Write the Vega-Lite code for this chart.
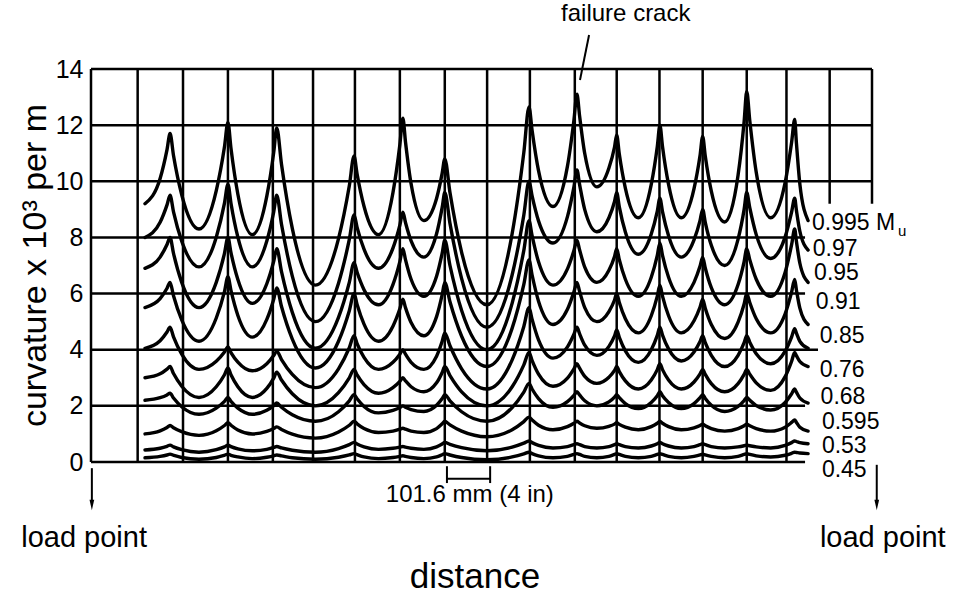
{
"$schema": "https://vega.github.io/schema/vega-lite/v6.json",
"width": 781, "height": 393,
"autosize": {"type": "none"},
"padding": {"left": 91, "top": 69, "right": 81, "bottom": 132},
"background": "white",
"config": {"view": {"stroke": null}, "font": "Liberation Sans", "text": {"font": "Liberation Sans", "color": "#000"}},
"datasets": {
"curves": [
{"x":0.17,"m995":9.2,"m97":8.0,"m95":6.9,"m91":5.5,"m85":4.05,"m76":3.0,"m68":2.2,"m595":1.0,"m53":0.43,"m45":0.15},
{"x":0.52,"m995":10.1,"m97":8.54,"m95":7.3,"m91":5.82,"m85":4.32,"m76":3.14,"m68":2.29,"m595":1.11,"m53":0.49,"m45":0.2},
{"x":0.68,"m995":11.13,"m97":9.16,"m95":7.75,"m91":6.19,"m85":4.63,"m76":3.31,"m68":2.39,"m595":1.23,"m53":0.56,"m45":0.25},
{"x":0.75,"m995":11.7,"m97":9.5,"m95":8.0,"m91":6.4,"m85":4.8,"m76":3.4,"m68":2.45,"m595":1.3,"m53":0.6,"m45":0.28},
{"x":0.83,"m995":10.92,"m97":8.91,"m95":7.43,"m91":5.92,"m85":4.46,"m76":3.15,"m68":2.28,"m595":1.22,"m53":0.54,"m45":0.24},
{"x":1.02,"m995":9.52,"m97":7.87,"m95":6.4,"m91":5.06,"m85":3.84,"m76":2.7,"m68":1.97,"m595":1.08,"m53":0.44,"m45":0.16},
{"x":1.42,"m995":8.3,"m97":6.95,"m95":5.5,"m91":4.3,"m85":3.3,"m76":2.3,"m68":1.7,"m595":0.95,"m53":0.35,"m45":0.1},
{"x":1.82,"m995":9.67,"m97":8.01,"m95":6.4,"m91":5.13,"m85":3.59,"m76":2.68,"m68":1.92,"m595":1.11,"m53":0.44,"m45":0.16},
{"x":2.01,"m995":11.23,"m97":9.22,"m95":7.43,"m91":6.07,"m85":3.92,"m76":3.11,"m68":2.16,"m595":1.3,"m53":0.54,"m45":0.24},
{"x":2.09,"m995":12.1,"m97":9.9,"m95":8.0,"m91":6.6,"m85":4.1,"m76":3.35,"m68":2.3,"m595":1.4,"m53":0.6,"m45":0.28},
{"x":2.16,"m995":11.18,"m97":9.22,"m95":7.46,"m91":6.11,"m85":3.9,"m76":3.11,"m68":2.16,"m595":1.31,"m53":0.55,"m45":0.24},
{"x":2.32,"m995":9.54,"m97":8.01,"m95":6.5,"m91":5.22,"m85":3.56,"m76":2.68,"m68":1.92,"m595":1.14,"m53":0.47,"m45":0.18},
{"x":2.655,"m995":8.1,"m97":6.95,"m95":5.65,"m91":4.45,"m85":3.25,"m76":2.3,"m68":1.7,"m595":1.0,"m53":0.4,"m45":0.12},
{"x":2.99,"m995":9.47,"m97":7.87,"m95":6.35,"m91":5.08,"m85":3.5,"m76":2.62,"m68":1.84,"m595":1.09,"m53":0.45,"m45":0.17},
{"x":3.15,"m995":11.03,"m97":8.91,"m95":7.15,"m91":5.8,"m85":3.79,"m76":2.99,"m68":2.01,"m595":1.19,"m53":0.52,"m45":0.22},
{"x":3.22,"m995":11.9,"m97":9.5,"m95":7.6,"m91":6.2,"m85":3.95,"m76":3.2,"m68":2.1,"m595":1.25,"m53":0.55,"m45":0.25},
{"x":3.33,"m995":10.61,"m97":8.47,"m95":6.78,"m91":5.54,"m85":3.65,"m76":2.92,"m68":1.95,"m595":1.16,"m53":0.5,"m45":0.22},
{"x":3.58,"m995":8.32,"m97":6.62,"m95":5.33,"m91":4.38,"m85":3.12,"m76":2.43,"m68":1.68,"m595":0.99,"m53":0.42,"m45":0.15},
{"x":4.115,"m995":6.3,"m97":5.0,"m95":4.05,"m91":3.35,"m85":2.65,"m76":2.0,"m68":1.45,"m595":0.85,"m53":0.35,"m45":0.1},
{"x":4.65,"m995":7.96,"m97":6.37,"m95":5.15,"m91":4.3,"m85":3.32,"m76":2.47,"m68":1.79,"m595":1.07,"m53":0.48,"m45":0.17},
{"x":4.9,"m995":9.84,"m97":7.93,"m95":6.4,"m91":5.39,"m85":4.07,"m76":3.0,"m68":2.18,"m595":1.31,"m53":0.62,"m45":0.25},
{"x":5.01,"m995":10.9,"m97":8.8,"m95":7.1,"m91":6.0,"m85":4.5,"m76":3.3,"m68":2.4,"m595":1.45,"m53":0.7,"m45":0.3},
{"x":5.08,"m995":10.26,"m97":8.36,"m95":6.76,"m91":5.61,"m85":4.22,"m76":3.1,"m68":2.25,"m595":1.36,"m53":0.64,"m45":0.26},
{"x":5.24,"m995":9.11,"m97":7.58,"m95":6.14,"m91":4.91,"m85":3.73,"m76":2.76,"m68":1.98,"m595":1.19,"m53":0.54,"m45":0.18},
{"x":5.575,"m995":8.1,"m97":6.9,"m95":5.6,"m91":4.3,"m85":3.3,"m76":2.45,"m68":1.75,"m595":1.05,"m53":0.45,"m45":0.12},
{"x":5.91,"m995":9.59,"m97":7.62,"m95":6.32,"m91":4.84,"m85":3.55,"m76":2.65,"m68":1.84,"m595":1.1,"m53":0.49,"m45":0.16},
{"x":6.07,"m995":11.3,"m97":8.44,"m95":7.14,"m91":5.46,"m85":3.84,"m76":2.87,"m68":1.94,"m595":1.17,"m53":0.53,"m45":0.2},
{"x":6.14,"m995":12.25,"m97":8.9,"m95":7.6,"m91":5.8,"m85":4.0,"m76":3.0,"m68":2.0,"m595":1.2,"m53":0.55,"m45":0.22},
{"x":6.2,"m995":11.41,"m97":8.53,"m95":7.21,"m91":5.5,"m85":3.84,"m76":2.89,"m68":1.95,"m595":1.17,"m53":0.53,"m45":0.2},
{"x":6.33,"m995":9.91,"m97":7.88,"m95":6.51,"m91":4.97,"m85":3.55,"m76":2.68,"m68":1.87,"m595":1.1,"m53":0.49,"m45":0.16},
{"x":6.625,"m995":8.6,"m97":7.3,"m95":5.9,"m91":4.5,"m85":3.3,"m76":2.5,"m68":1.8,"m595":1.05,"m53":0.45,"m45":0.12},
{"x":6.92,"m995":9.39,"m97":8.13,"m95":6.62,"m91":5.18,"m85":3.77,"m76":2.82,"m68":2.02,"m595":1.19,"m53":0.54,"m45":0.18},
{"x":7.05,"m995":10.29,"m97":9.07,"m95":7.44,"m91":5.96,"m85":4.3,"m76":3.19,"m68":2.26,"m595":1.36,"m53":0.64,"m45":0.26},
{"x":7.11,"m995":10.8,"m97":9.6,"m95":7.9,"m91":6.4,"m85":4.6,"m76":3.4,"m68":2.4,"m595":1.45,"m53":0.7,"m45":0.3},
{"x":7.23,"m995":9.6,"m97":8.5,"m95":7.0,"m91":5.71,"m85":4.14,"m76":3.08,"m68":2.18,"m595":1.32,"m53":0.63,"m45":0.25},
{"x":7.5,"m995":7.47,"m97":6.53,"m95":5.4,"m91":4.48,"m85":3.32,"m76":2.5,"m68":1.79,"m595":1.1,"m53":0.51,"m45":0.16},
{"x":8.085,"m995":5.6,"m97":4.8,"m95":4.0,"m91":3.4,"m85":2.6,"m76":2.0,"m68":1.45,"m595":0.9,"m53":0.4,"m45":0.08},
{"x":8.67,"m995":8.14,"m97":6.67,"m95":5.66,"m91":4.77,"m85":3.64,"m76":2.68,"m68":1.94,"m595":1.15,"m53":0.53,"m45":0.18},
{"x":8.94,"m995":11.03,"m97":8.8,"m95":7.54,"m91":6.33,"m85":4.83,"m76":3.46,"m68":2.49,"m595":1.44,"m53":0.67,"m45":0.29},
{"x":9.06,"m995":12.65,"m97":10.0,"m95":8.6,"m91":7.2,"m85":5.5,"m76":3.9,"m68":2.8,"m595":1.6,"m53":0.75,"m45":0.35},
{"x":9.13,"m995":11.83,"m97":9.49,"m95":8.07,"m91":6.67,"m85":5.09,"m76":3.62,"m68":2.6,"m595":1.5,"m53":0.69,"m45":0.3},
{"x":9.28,"m995":10.38,"m97":8.59,"m95":7.13,"m91":5.73,"m85":4.35,"m76":3.13,"m68":2.26,"m595":1.31,"m53":0.59,"m45":0.22},
{"x":9.615,"m995":9.1,"m97":7.8,"m95":6.3,"m91":4.9,"m85":3.7,"m76":2.7,"m68":1.95,"m595":1.15,"m53":0.5,"m45":0.15},
{"x":9.95,"m995":10.54,"m97":8.74,"m95":6.88,"m91":5.44,"m85":4.1,"m76":2.99,"m68":2.15,"m595":1.26,"m53":0.55,"m45":0.2},
{"x":10.1,"m995":12.18,"m97":9.8,"m95":7.53,"m91":6.06,"m85":4.55,"m76":3.32,"m68":2.37,"m595":1.38,"m53":0.62,"m45":0.27},
{"x":10.17,"m995":13.1,"m97":10.4,"m95":7.9,"m91":6.4,"m85":4.8,"m76":3.5,"m68":2.5,"m595":1.45,"m53":0.65,"m45":0.3},
{"x":10.23,"m995":12.34,"m97":9.89,"m95":7.56,"m91":6.08,"m85":4.57,"m76":3.34,"m68":2.39,"m595":1.39,"m53":0.62,"m45":0.27},
{"x":10.35,"m995":10.99,"m97":8.99,"m95":6.94,"m91":5.5,"m85":4.16,"m76":3.05,"m68":2.18,"m595":1.29,"m53":0.55,"m45":0.2},
{"x":10.63,"m995":9.8,"m97":8.2,"m95":6.4,"m91":5.0,"m85":3.8,"m76":2.8,"m68":2.0,"m595":1.2,"m53":0.5,"m45":0.15},
{"x":10.91,"m995":10.47,"m97":8.7,"m95":6.83,"m91":5.36,"m85":4.12,"m76":3.02,"m68":2.14,"m595":1.27,"m53":0.55,"m45":0.2},
{"x":11.04,"m995":11.22,"m97":9.28,"m95":7.32,"m91":5.77,"m85":4.49,"m76":3.26,"m68":2.31,"m595":1.35,"m53":0.62,"m45":0.27},
{"x":11.09,"m995":11.65,"m97":9.6,"m95":7.6,"m91":6.0,"m85":4.7,"m76":3.4,"m68":2.4,"m595":1.4,"m53":0.65,"m45":0.3},
{"x":11.15,"m995":10.97,"m97":9.09,"m95":7.21,"m91":5.68,"m85":4.44,"m76":3.22,"m68":2.29,"m595":1.34,"m53":0.62,"m45":0.27},
{"x":11.29,"m995":9.76,"m97":8.19,"m95":6.51,"m91":5.1,"m85":3.96,"m76":2.89,"m68":2.08,"m595":1.24,"m53":0.55,"m45":0.2},
{"x":11.59,"m995":8.7,"m97":7.4,"m95":5.9,"m91":4.6,"m85":3.55,"m76":2.6,"m68":1.9,"m595":1.15,"m53":0.5,"m45":0.15},
{"x":11.89,"m995":9.89,"m97":8.12,"m95":6.58,"m91":5.21,"m85":4.0,"m76":2.92,"m68":2.12,"m595":1.26,"m53":0.57,"m45":0.2},
{"x":12.03,"m995":11.24,"m97":8.94,"m95":7.36,"m91":5.91,"m85":4.51,"m76":3.29,"m68":2.36,"m595":1.38,"m53":0.65,"m45":0.27},
{"x":12.09,"m995":12.0,"m97":9.4,"m95":7.8,"m91":6.3,"m85":4.8,"m76":3.5,"m68":2.5,"m595":1.45,"m53":0.7,"m45":0.3},
{"x":12.15,"m995":11.24,"m97":8.92,"m95":7.36,"m91":5.91,"m85":4.52,"m76":3.29,"m68":2.36,"m595":1.38,"m53":0.65,"m45":0.27},
{"x":12.29,"m995":9.89,"m97":8.06,"m95":6.58,"m91":5.21,"m85":4.03,"m76":2.92,"m68":2.12,"m595":1.26,"m53":0.57,"m45":0.2},
{"x":12.585,"m995":8.7,"m97":7.3,"m95":5.9,"m91":4.6,"m85":3.6,"m76":2.6,"m68":1.9,"m595":1.15,"m53":0.5,"m45":0.15},
{"x":12.88,"m995":9.74,"m97":7.91,"m95":6.4,"m91":5.03,"m85":3.92,"m76":2.85,"m68":2.08,"m595":1.22,"m53":0.55,"m45":0.2},
{"x":13.02,"m995":10.93,"m97":8.61,"m95":6.98,"m91":5.52,"m85":4.29,"m76":3.14,"m68":2.29,"m595":1.3,"m53":0.62,"m45":0.25},
{"x":13.08,"m995":11.6,"m97":9.0,"m95":7.3,"m91":5.8,"m85":4.5,"m76":3.3,"m68":2.4,"m595":1.35,"m53":0.65,"m45":0.28},
{"x":13.14,"m995":10.9,"m97":8.54,"m95":6.91,"m91":5.48,"m85":4.25,"m76":3.12,"m68":2.26,"m595":1.29,"m53":0.62,"m45":0.25},
{"x":13.28,"m995":9.65,"m97":7.72,"m95":6.21,"m91":4.9,"m85":3.8,"m76":2.79,"m68":2.02,"m595":1.19,"m53":0.55,"m45":0.2},
{"x":13.59,"m995":8.55,"m97":7.0,"m95":5.6,"m91":4.4,"m85":3.4,"m76":2.5,"m68":1.8,"m595":1.1,"m53":0.5,"m45":0.15},
{"x":13.9,"m995":10.22,"m97":7.94,"m95":6.32,"m91":4.98,"m85":3.8,"m76":2.79,"m68":1.98,"m595":1.19,"m53":0.54,"m45":0.2},
{"x":14.04,"m995":12.13,"m97":9.0,"m95":7.14,"m91":5.63,"m85":4.25,"m76":3.12,"m68":2.19,"m595":1.29,"m53":0.58,"m45":0.27},
{"x":14.1,"m995":13.2,"m97":9.6,"m95":7.6,"m91":6.0,"m85":4.5,"m76":3.3,"m68":2.3,"m595":1.35,"m53":0.6,"m45":0.3},
{"x":14.17,"m995":12.17,"m97":9.06,"m95":7.21,"m91":5.68,"m85":4.27,"m76":3.13,"m68":2.2,"m595":1.29,"m53":0.58,"m45":0.27},
{"x":14.32,"m995":10.32,"m97":8.1,"m95":6.51,"m91":5.1,"m85":3.86,"m76":2.82,"m68":2.01,"m595":1.19,"m53":0.54,"m45":0.22},
{"x":14.655,"m995":8.7,"m97":7.25,"m95":5.9,"m91":4.6,"m85":3.5,"m76":2.55,"m68":1.85,"m595":1.1,"m53":0.5,"m45":0.18},
{"x":14.99,"m995":9.96,"m97":8.02,"m95":6.76,"m91":5.28,"m85":3.95,"m76":3.04,"m68":2.12,"m595":1.24,"m53":0.59,"m45":0.24},
{"x":15.14,"m995":11.4,"m97":8.91,"m95":7.75,"m91":6.06,"m85":4.46,"m76":3.59,"m68":2.43,"m595":1.41,"m53":0.69,"m45":0.31},
{"x":15.21,"m995":12.2,"m97":9.4,"m95":8.3,"m91":6.5,"m85":4.75,"m76":3.9,"m68":2.6,"m595":1.5,"m53":0.75,"m45":0.35},
{"x":15.25,"m995":11.37,"m97":8.97,"m95":7.86,"m91":6.13,"m85":4.59,"m76":3.79,"m68":2.49,"m595":1.41,"m53":0.73,"m45":0.34},
{"x":15.33,"m995":9.9,"m97":8.22,"m95":7.08,"m91":5.48,"m85":4.3,"m76":3.58,"m68":2.28,"m595":1.24,"m53":0.69,"m45":0.32},
{"x":15.52,"m995":8.6,"m97":7.55,"m95":6.4,"m91":4.9,"m85":4.05,"m76":3.4,"m68":2.1,"m595":1.1,"m53":0.65,"m45":0.3}
],
"hgrid": [
{"y":0,"x1":-1.08,"x2":15.45},{"y":2,"x1":-1.08,"x2":15.45},{"y":4,"x1":-1.08,"x2":15.75},{"y":6,"x1":-1.08,"x2":15.45},
{"y":8,"x1":-1.08,"x2":15.45},{"y":10,"x1":-1.08,"x2":17},{"y":12,"x1":-1.08,"x2":17},{"y":14,"x1":-1.08,"x2":17}
],
"vgrid": [
{"x":-1.08,"y1":0,"y2":14},{"x":0,"y1":0,"y2":14},{"x":1.05,"y1":0,"y2":14},{"x":2.09,"y1":0,"y2":14},{"x":3.13,"y1":0,"y2":14},
{"x":4.06,"y1":0,"y2":14},{"x":5.03,"y1":0,"y2":14},{"x":6.07,"y1":0,"y2":14},{"x":7.11,"y1":0,"y2":14},{"x":8.09,"y1":0,"y2":14},
{"x":9.08,"y1":0,"y2":14},{"x":10.12,"y1":0,"y2":14},{"x":11.09,"y1":0,"y2":14},{"x":12.08,"y1":0,"y2":14},{"x":13.08,"y1":0,"y2":14},
{"x":14.1,"y1":0,"y2":14},{"x":15.02,"y1":0,"y2":14},{"x":16.02,"y1":9.2,"y2":14},{"x":17,"y1":9.2,"y2":14}
],
"levels": [
{"t":"0.995 M","x":15.61,"y":8.51},{"t":"0.97","x":15.63,"y":7.59},{"t":"0.95","x":15.66,"y":6.73},
{"t":"0.91","x":15.7,"y":5.7},{"t":"0.85","x":15.79,"y":4.49},{"t":"0.76","x":15.79,"y":3.28},
{"t":"0.68","x":15.81,"y":2.32},{"t":"0.595","x":15.84,"y":1.43},{"t":"0.53","x":15.84,"y":0.57},
{"t":"0.45","x":15.84,"y":-0.28}
]
},
"layer": [
{
"data": {"name": "curves"},
"transform": [{"fold": ["m995","m97","m95","m91","m85","m76","m68","m595","m53","m45"], "as": ["M","k"]}],
"mark": {"type": "line", "interpolate": "monotone", "strokeWidth": 3.4, "color": "#000", "strokeCap": "round", "strokeJoin": "round"},
"encoding": {
"x": {"field": "x", "type": "quantitative", "scale": {"domain": [-1.08, 17], "nice": false, "zero": false}, "axis": null},
"y": {"field": "k", "type": "quantitative", "scale": {"domain": [0, 14], "nice": false, "zero": false},
"axis": {"values": [0,2,4,6,8,10,12,14], "domain": false, "ticks": false, "grid": false,
"labelFont": "Liberation Sans", "labelFontSize": 25, "labelColor": "#000", "labelPadding": 8,
"title": "curvature x 10³ per m", "titleFont": "Liberation Sans", "titleFontSize": 34, "titleFontWeight": "normal",
"titleColor": "#000", "titleAngle": 270, "titleX": -46, "titleY": 196, "titleAlign": "center", "titleBaseline": "alphabetic"}},
"detail": {"field": "M"}
}
},
{
"data": {"name": "hgrid"},
"mark": {"type": "rule", "strokeWidth": 2.5, "color": "#000"},
"encoding": {
"x": {"field": "x1", "type": "quantitative", "scale": {"domain": [-1.08, 17], "nice": false, "zero": false}, "axis": null},
"x2": {"field": "x2"},
"y": {"field": "y", "type": "quantitative", "scale": {"domain": [0, 14], "nice": false, "zero": false},
"axis": {"values": [0,2,4,6,8,10,12,14], "domain": false, "ticks": false, "grid": false,
"labelFont": "Liberation Sans", "labelFontSize": 25, "labelColor": "#000", "labelPadding": 8,
"title": "curvature x 10³ per m", "titleFont": "Liberation Sans", "titleFontSize": 34, "titleFontWeight": "normal",
"titleColor": "#000", "titleAngle": 270, "titleX": -46, "titleY": 196, "titleAlign": "center", "titleBaseline": "alphabetic"}}
}
},
{
"data": {"name": "vgrid"},
"mark": {"type": "rule", "strokeWidth": 2.5, "color": "#000"},
"encoding": {
"x": {"field": "x", "type": "quantitative", "scale": {"domain": [-1.08, 17], "nice": false, "zero": false}, "axis": null},
"y": {"field": "y1", "type": "quantitative", "scale": {"domain": [0, 14], "nice": false, "zero": false},
"axis": {"values": [0,2,4,6,8,10,12,14], "domain": false, "ticks": false, "grid": false,
"labelFont": "Liberation Sans", "labelFontSize": 25, "labelColor": "#000", "labelPadding": 8,
"title": "curvature x 10³ per m", "titleFont": "Liberation Sans", "titleFontSize": 34, "titleFontWeight": "normal",
"titleColor": "#000", "titleAngle": 270, "titleX": -46, "titleY": 196, "titleAlign": "center", "titleBaseline": "alphabetic"}},
"y2": {"field": "y2"}
}
},
{
"data": {"values": [{"x":-1.06,"y1":-0.22,"y2":-1.45},{"x":17.11,"y1":-0.1,"y2":-1.45},{"x":7.16,"y1":-0.15,"y2":-0.75},{"x":8.16,"y1":-0.15,"y2":-0.75}]},
"mark": {"type": "rule", "strokeWidth": 2, "color": "#000"},
"encoding": {
"x": {"field": "x", "type": "quantitative", "scale": {"domain": [-1.08, 17], "nice": false, "zero": false}, "axis": null},
"y": {"field": "y1", "type": "quantitative", "scale": {"domain": [0, 14], "nice": false, "zero": false},
"axis": {"values": [0,2,4,6,8,10,12,14], "domain": false, "ticks": false, "grid": false,
"labelFont": "Liberation Sans", "labelFontSize": 25, "labelColor": "#000", "labelPadding": 8,
"title": "curvature x 10³ per m", "titleFont": "Liberation Sans", "titleFontSize": 34, "titleFontWeight": "normal",
"titleColor": "#000", "titleAngle": 270, "titleX": -46, "titleY": 196, "titleAlign": "center", "titleBaseline": "alphabetic"}},
"y2": {"field": "y2"}
}
},
{
"data": {"values": [{"x1":7.16,"x2":8.16,"y":-0.6}]},
"mark": {"type": "rule", "strokeWidth": 2, "color": "#000"},
"encoding": {
"x": {"field": "x1", "type": "quantitative", "scale": {"domain": [-1.08, 17], "nice": false, "zero": false}, "axis": null},
"x2": {"field": "x2"},
"y": {"field": "y", "type": "quantitative", "scale": {"domain": [0, 14], "nice": false, "zero": false},
"axis": {"values": [0,2,4,6,8,10,12,14], "domain": false, "ticks": false, "grid": false,
"labelFont": "Liberation Sans", "labelFontSize": 25, "labelColor": "#000", "labelPadding": 8,
"title": "curvature x 10³ per m", "titleFont": "Liberation Sans", "titleFontSize": 34, "titleFontWeight": "normal",
"titleColor": "#000", "titleAngle": 270, "titleX": -46, "titleY": 196, "titleAlign": "center", "titleBaseline": "alphabetic"}}
}
},
{
"data": {"values": [{"x1":10.45,"y1":15.21,"x2":10.24,"y2":13.61}]},
"mark": {"type": "rule", "strokeWidth": 2, "color": "#000"},
"encoding": {
"x": {"field": "x1", "type": "quantitative", "scale": {"domain": [-1.08, 17], "nice": false, "zero": false}, "axis": null},
"x2": {"field": "x2"},
"y": {"field": "y1", "type": "quantitative", "scale": {"domain": [0, 14], "nice": false, "zero": false},
"axis": {"values": [0,2,4,6,8,10,12,14], "domain": false, "ticks": false, "grid": false,
"labelFont": "Liberation Sans", "labelFontSize": 25, "labelColor": "#000", "labelPadding": 8,
"title": "curvature x 10³ per m", "titleFont": "Liberation Sans", "titleFontSize": 34, "titleFontWeight": "normal",
"titleColor": "#000", "titleAngle": 270, "titleX": -46, "titleY": 196, "titleAlign": "center", "titleBaseline": "alphabetic"}},
"y2": {"field": "y2"}
}
},
{
"data": {"values": [{"x":-1.06,"y":-1.53},{"x":17.11,"y":-1.53}]},
"mark": {"type": "point", "shape": "M-0.45,-1L0.45,-1L0,1Z", "size": 110, "filled": true, "color": "#000", "opacity": 1},
"encoding": {
"x": {"field": "x", "type": "quantitative", "scale": {"domain": [-1.08, 17], "nice": false, "zero": false}, "axis": null},
"y": {"field": "y", "type": "quantitative", "scale": {"domain": [0, 14], "nice": false, "zero": false},
"axis": {"values": [0,2,4,6,8,10,12,14], "domain": false, "ticks": false, "grid": false,
"labelFont": "Liberation Sans", "labelFontSize": 25, "labelColor": "#000", "labelPadding": 8,
"title": "curvature x 10³ per m", "titleFont": "Liberation Sans", "titleFontSize": 34, "titleFontWeight": "normal",
"titleColor": "#000", "titleAngle": 270, "titleX": -46, "titleY": 196, "titleAlign": "center", "titleBaseline": "alphabetic"}}
}
},
{
"data": {"name": "levels"},
"mark": {"type": "text", "align": "left", "baseline": "middle", "fontSize": 23, "font": "Liberation Sans", "color": "#000"},
"encoding": {
"x": {"field": "x", "type": "quantitative", "scale": {"domain": [-1.08, 17], "nice": false, "zero": false}, "axis": null},
"y": {"field": "y", "type": "quantitative", "scale": {"domain": [0, 14], "nice": false, "zero": false},
"axis": {"values": [0,2,4,6,8,10,12,14], "domain": false, "ticks": false, "grid": false,
"labelFont": "Liberation Sans", "labelFontSize": 25, "labelColor": "#000", "labelPadding": 8,
"title": "curvature x 10³ per m", "titleFont": "Liberation Sans", "titleFontSize": 34, "titleFontWeight": "normal",
"titleColor": "#000", "titleAngle": 270, "titleX": -46, "titleY": 196, "titleAlign": "center", "titleBaseline": "alphabetic"}},
"text": {"field": "t"}
}
},
{
"data": {"values": [{"t":"u","x":17.6,"y":8.23}]},
"mark": {"type": "text", "align": "left", "baseline": "middle", "fontSize": 15, "font": "Liberation Sans", "color": "#000"},
"encoding": {
"x": {"field": "x", "type": "quantitative", "scale": {"domain": [-1.08, 17], "nice": false, "zero": false}, "axis": null},
"y": {"field": "y", "type": "quantitative", "scale": {"domain": [0, 14], "nice": false, "zero": false},
"axis": {"values": [0,2,4,6,8,10,12,14], "domain": false, "ticks": false, "grid": false,
"labelFont": "Liberation Sans", "labelFontSize": 25, "labelColor": "#000", "labelPadding": 8,
"title": "curvature x 10³ per m", "titleFont": "Liberation Sans", "titleFontSize": 34, "titleFontWeight": "normal",
"titleColor": "#000", "titleAngle": 270, "titleX": -46, "titleY": 196, "titleAlign": "center", "titleBaseline": "alphabetic"}},
"text": {"field": "t"}
}
},
{
"data": {"values": [{"t":"failure crack","x":11.3,"y":15.96}]},
"mark": {"type": "text", "align": "center", "baseline": "middle", "fontSize": 24, "font": "Liberation Sans", "color": "#000"},
"encoding": {
"x": {"field": "x", "type": "quantitative", "scale": {"domain": [-1.08, 17], "nice": false, "zero": false}, "axis": null},
"y": {"field": "y", "type": "quantitative", "scale": {"domain": [0, 14], "nice": false, "zero": false},
"axis": {"values": [0,2,4,6,8,10,12,14], "domain": false, "ticks": false, "grid": false,
"labelFont": "Liberation Sans", "labelFontSize": 25, "labelColor": "#000", "labelPadding": 8,
"title": "curvature x 10³ per m", "titleFont": "Liberation Sans", "titleFontSize": 34, "titleFontWeight": "normal",
"titleColor": "#000", "titleAngle": 270, "titleX": -46, "titleY": 196, "titleAlign": "center", "titleBaseline": "alphabetic"}},
"text": {"field": "t"}
}
},
{
"data": {"values": [{"t":"101.6 mm (4 in)","x":7.69,"y":-1.18}]},
"mark": {"type": "text", "align": "center", "baseline": "middle", "fontSize": 24, "font": "Liberation Sans", "color": "#000"},
"encoding": {
"x": {"field": "x", "type": "quantitative", "scale": {"domain": [-1.08, 17], "nice": false, "zero": false}, "axis": null},
"y": {"field": "y", "type": "quantitative", "scale": {"domain": [0, 14], "nice": false, "zero": false},
"axis": {"values": [0,2,4,6,8,10,12,14], "domain": false, "ticks": false, "grid": false,
"labelFont": "Liberation Sans", "labelFontSize": 25, "labelColor": "#000", "labelPadding": 8,
"title": "curvature x 10³ per m", "titleFont": "Liberation Sans", "titleFontSize": 34, "titleFontWeight": "normal",
"titleColor": "#000", "titleAngle": 270, "titleX": -46, "titleY": 196, "titleAlign": "center", "titleBaseline": "alphabetic"}},
"text": {"field": "t"}
}
},
{
"data": {"values": [{"t":"load point","x":-1.24,"y":-2.71},{"t":"load point","x":17.25,"y":-2.71}]},
"mark": {"type": "text", "align": "center", "baseline": "middle", "fontSize": 29, "font": "Liberation Sans", "color": "#000"},
"encoding": {
"x": {"field": "x", "type": "quantitative", "scale": {"domain": [-1.08, 17], "nice": false, "zero": false}, "axis": null},
"y": {"field": "y", "type": "quantitative", "scale": {"domain": [0, 14], "nice": false, "zero": false},
"axis": {"values": [0,2,4,6,8,10,12,14], "domain": false, "ticks": false, "grid": false,
"labelFont": "Liberation Sans", "labelFontSize": 25, "labelColor": "#000", "labelPadding": 8,
"title": "curvature x 10³ per m", "titleFont": "Liberation Sans", "titleFontSize": 34, "titleFontWeight": "normal",
"titleColor": "#000", "titleAngle": 270, "titleX": -46, "titleY": 196, "titleAlign": "center", "titleBaseline": "alphabetic"}},
"text": {"field": "t"}
}
},
{
"data": {"values": [{"t":"distance","x":7.81,"y":-4.1}]},
"mark": {"type": "text", "align": "center", "baseline": "middle", "fontSize": 35, "font": "Liberation Sans", "color": "#000"},
"encoding": {
"x": {"field": "x", "type": "quantitative", "scale": {"domain": [-1.08, 17], "nice": false, "zero": false}, "axis": null},
"y": {"field": "y", "type": "quantitative", "scale": {"domain": [0, 14], "nice": false, "zero": false},
"axis": {"values": [0,2,4,6,8,10,12,14], "domain": false, "ticks": false, "grid": false,
"labelFont": "Liberation Sans", "labelFontSize": 25, "labelColor": "#000", "labelPadding": 8,
"title": "curvature x 10³ per m", "titleFont": "Liberation Sans", "titleFontSize": 34, "titleFontWeight": "normal",
"titleColor": "#000", "titleAngle": 270, "titleX": -46, "titleY": 196, "titleAlign": "center", "titleBaseline": "alphabetic"}},
"text": {"field": "t"}
}
}
]
}
